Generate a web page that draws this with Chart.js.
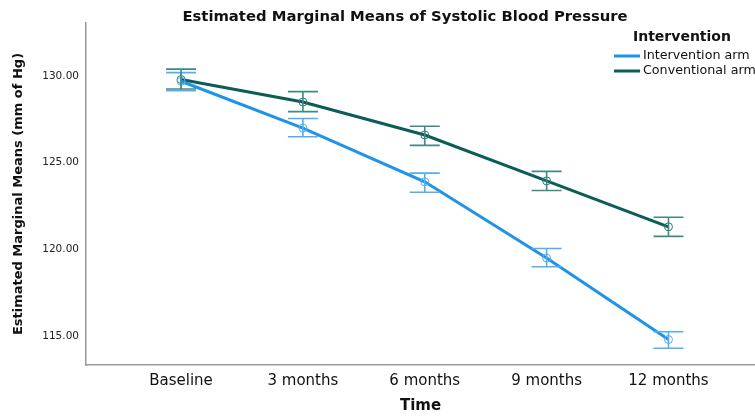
<!DOCTYPE html>
<html>
<head>
<meta charset="utf-8">
<script src="https://cdn.jsdelivr.net/npm/chart.js@4.4.0/dist/chart.umd.min.js"></script>
<style>
  body { margin: 0; background: #fff; }
  #wrap { width: 755px; height: 416px; }
</style>
</head>
<body>
<div id="wrap"><canvas id="grafikEmm"></canvas></div>
<script>
// values
const categories = ["Baseline", "3 months", "6 months", "9 months", "12 months"];
const interventionMean = [129.7, 127.0, 123.9, 119.5, 114.8];
const interventionLow = [129.15, 126.5, 123.3, 119.0, 114.3];
const interventionHigh = [130.2, 127.55, 124.4, 120.05, 115.25];
const conventionalMean = [129.8, 128.5, 126.6, 123.95, 121.3];
const conventionalLow = [129.25, 127.95, 126.0, 123.4, 120.75];
const conventionalHigh = [130.4, 129.1, 127.1, 124.5, 121.85];
const yTicks = [115, 120, 125, 130];

const FONT = "'DejaVu Sans', sans-serif";

function points(arr) {
    return arr.map(function (v, i) { return { x: i, y: v }; });
}

// error bars drawn with the chart's own scales
const errorBars = {
    id: "errorBars",
    afterDatasetsDraw: function (chart) {
        const ctx = chart.ctx;
        const xs = chart.scales.x, ys = chart.scales.y;
        chart.data.datasets.forEach(function (ds) {
            ctx.save();
            ctx.strokeStyle = ds.barColor;
            ctx.lineWidth = 1.6;
            ds.low.forEach(function (lo, i) {
                const x = xs.getPixelForValue(i);
                const y1 = ys.getPixelForValue(lo);
                const y2 = ys.getPixelForValue(ds.high[i]);
                ctx.beginPath();
                ctx.moveTo(x, y1); ctx.lineTo(x, y2);
                ctx.moveTo(x - 15, y1); ctx.lineTo(x + 15, y1);
                ctx.moveTo(x - 15, y2); ctx.lineTo(x + 15, y2);
                ctx.stroke();
            });
            ctx.restore();
        });
    }
};

// title + legend, placed like the SPSS output
const decor = {
    id: "decor",
    afterDraw: function (chart) {
        const ctx = chart.ctx;
        ctx.save();
        ctx.fillStyle = "#111";
        ctx.textBaseline = "middle";
        ctx.textAlign = "center";
        ctx.font = "bold 14.8px " + FONT;
        ctx.fillText("Estimated Marginal Means of Systolic Blood Pressure", 405, 17);

        ctx.textAlign = "left";
        ctx.font = "bold 14px " + FONT;
        ctx.fillText("Intervention", 633, 37);

        ctx.font = "12.7px " + FONT;
        chart.data.datasets.forEach(function (ds, i) {
            const y = 56 + i * 15;
            ctx.strokeStyle = ds.borderColor;
            ctx.lineWidth = 3;
            ctx.beginPath();
            ctx.moveTo(614, y); ctx.lineTo(640, y);
            ctx.stroke();
            ctx.fillStyle = "#111";
            ctx.fillText(ds.label, 643, y);
        });
        ctx.restore();
    }
};

const ctx = document.getElementById("grafikEmm").getContext("2d");

new Chart(ctx, {
    type: "line",
    data: {
        datasets: [{
            label: "Intervention arm",
            data: points(interventionMean),
            low: interventionLow,
            high: interventionHigh,
            borderColor: "#1e93e8",
            barColor: "#52b0f0",
            borderWidth: 3,
            pointRadius: 4,
            pointBorderWidth: 1,
            pointBorderColor: "#52b0f0",
            pointBackgroundColor: "rgba(0,0,0,0)",
            tension: 0
        }, {
            label: "Conventional arm",
            data: points(conventionalMean),
            low: conventionalLow,
            high: conventionalHigh,
            borderColor: "#0b5d57",
            barColor: "#3f8a85",
            borderWidth: 3,
            pointRadius: 4,
            pointBorderWidth: 1,
            pointBorderColor: "#2f7a75",
            pointBackgroundColor: "rgba(0,0,0,0)",
            tension: 0
        }]
    },
    options: {
        responsive: true,
        maintainAspectRatio: false,
        animation: false,
        layout: { autoPadding: false, padding: { top: 23, right: 0, left: 0, bottom: 0 } },
        plugins: {
            legend: { display: false },
            title: { display: false },
            tooltip: { enabled: false }
        },
        scales: {
            x: {
                type: "linear",
                min: -0.78,
                max: 4.71,
                afterBuildTicks: function (scale) {
                    scale.ticks = categories.map(function (c, i) { return { value: i }; });
                },
                afterFit: function (scale) {
                    scale.height = 51;
                    scale.paddingLeft = 0;
                    scale.paddingRight = 0;
                },
                grid: { display: false, drawTicks: false },
                border: { color: "#999", width: 1.5 },
                ticks: {
                    padding: 7,
                    color: "#111",
                    font: { family: FONT, size: 15 },
                    callback: function (v) { return categories[v]; }
                },
                title: {
                    display: true,
                    text: "Time",
                    color: "#111",
                    font: { family: FONT, size: 15, weight: "bold" },
                    padding: { top: 4, bottom: 1 }
                }
            },
            y: {
                min: 113.33,
                max: 133.06,
                afterBuildTicks: function (scale) {
                    scale.ticks = yTicks.map(function (v) { return { value: v }; });
                },
                afterFit: function (scale) {
                    scale.width = 86;
                    scale.paddingTop = 0;
                    scale.paddingBottom = 0;
                },
                grid: { display: false, drawTicks: false },
                border: { color: "#999", width: 1.5 },
                ticks: {
                    padding: 7,
                    color: "#222",
                    font: { family: FONT, size: 10.5 },
                    callback: function (v) { return v.toFixed(2); }
                },
                title: {
                    display: true,
                    text: "Estimated Marginal Means (mm of Hg)",
                    color: "#111",
                    font: { family: FONT, size: 13, weight: "bold" },
                    padding: { top: 11, bottom: 0 }
                }
            }
        }
    },
    plugins: [errorBars, decor]
});
</script>
</body>
</html>
